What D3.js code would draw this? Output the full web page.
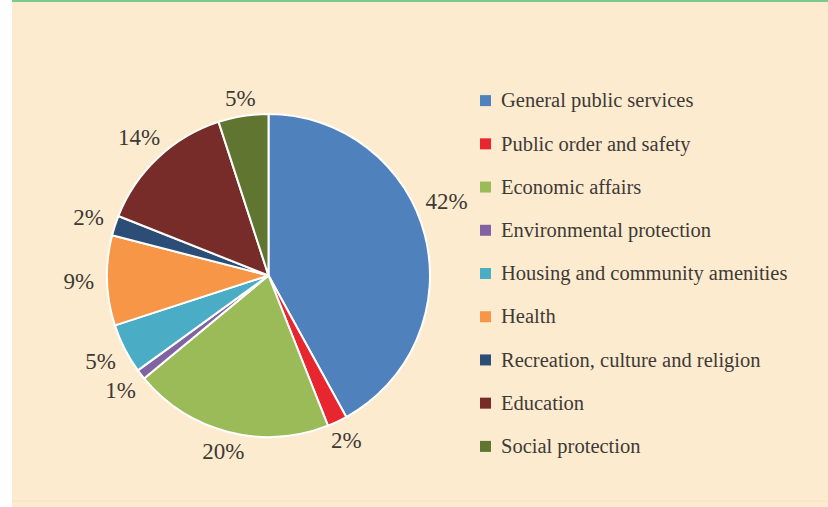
<!DOCTYPE html>
<html>
<head>
<meta charset="utf-8">
<script src="https://cdn.jsdelivr.net/npm/d3@7"></script>
<style>
  html, body { margin: 0; padding: 0; background: #ffffff; }
  svg { display: block; }
  svg text { font-family: "Liberation Serif", "Times New Roman", serif; fill: #3d3a36; }
</style>
</head>
<body>
<svg id="chart" width="828" height="507"></svg>
<script>
// Government expenditure by function, share of total (%)
const categories = [
  "General public services",
  "Public order and safety",
  "Economic affairs",
  "Environmental protection",
  "Housing and community amenities",
  "Health",
  "Recreation, culture and religion",
  "Education",
  "Social protection"
];
const shares = [42, 2, 20, 1, 5, 9, 2, 14, 5];
const colors = [
  "#4f81bd", "#e8262f", "#9bbb59", "#8064a2", "#4bacc6",
  "#f79646", "#2c4d75", "#772c2a", "#5f7530"
];

const W = 828, H = 507;
const svg = d3.select("#chart");

// panel background
svg.append("rect").attr("x", 12).attr("y", 0).attr("width", W - 12).attr("height", H)
  .attr("fill", "#fdebd0");
svg.append("line").attr("x1", 12).attr("x2", W).attr("y1", 501).attr("y2", 501)
  .attr("stroke", "#f6e2c6").attr("stroke-width", 1);
svg.append("line").attr("x1", 12).attr("x2", W).attr("y1", 1).attr("y2", 1)
  .attr("stroke", "#7bc98c").attr("stroke-width", 2);

const cx = 268.5, cy = 275.5, R = 161.5;
const legendX = 480;
const data = categories.map((c, i) => ({ name: c, value: shares[i], color: colors[i] }));

const pie = d3.pie().value(d => d.value).sort(null);
const arcs = pie(data);
const arc = d3.arc().innerRadius(0).outerRadius(R);

const g = svg.append("g").attr("transform", `translate(${cx},${cy})`);
g.selectAll("path.slice").data(arcs).join("path")
  .attr("class", "slice")
  .attr("d", arc)
  .attr("fill", d => d.data.color)
  .attr("stroke", "#ffffff")
  .attr("stroke-width", 2)
  .attr("stroke-linejoin", "round");

// percentage labels outside the rim
const labels = g.selectAll("text.pct").data(arcs).join("text")
  .attr("class", "pct")
  .style("font-size", "23px")
  .attr("text-anchor", "middle")
  .attr("dy", "0.33em")
  .text(d => d.data.value + "%");

labels.each(function(d) {
  const bb = this.getBBox();
  let a = (d.startAngle + d.endAngle) / 2;
  const place = ang => {
    const s = Math.sin(ang), c = Math.cos(ang);
    const r = R + 16 + 0.8 * Math.abs(s) * bb.width / 2;
    return [r * s, -r * c];
  };
  let [x, y] = place(a);
  // keep labels clear of the legend column
  while (cx + x + bb.width / 2 > legendX - 12 && a > 0.05) {
    a -= 0.005;
    [x, y] = place(a);
  }
  d3.select(this).attr("x", x).attr("y", y);
});

// legend
const ly = d3.scaleBand().domain(categories).range([79, 468]);
const leg = svg.append("g");
const rows = leg.selectAll("g").data(data).join("g")
  .attr("transform", d => `translate(${legendX},${ly(d.name) + ly.bandwidth() / 2})`);
rows.append("rect")
  .attr("x", 0).attr("y", -5.5).attr("width", 11).attr("height", 11)
  .attr("fill", d => d.color);
rows.append("text")
  .attr("x", 21).attr("y", 0)
  .attr("dy", "0.33em")
  .style("font-size", "20.5px")
  .text(d => d.name);
</script>
</body>
</html>
